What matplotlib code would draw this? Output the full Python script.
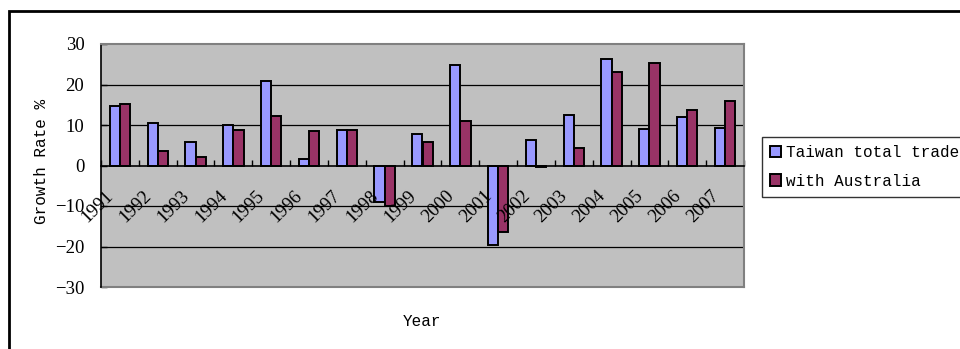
#!/usr/bin/env python3
"""Taiwan trade growth rate vs trade with Australia, 1991-2007."""

import matplotlib
matplotlib.use('Agg')
import matplotlib.pyplot as plt
import matplotlib.patches as mpatches
import matplotlib.transforms as mtransforms
import numpy as np

years = ['1991', '1992', '1993', '1994', '1995', '1996', '1997', '1998', '1999',
         '2000', '2001', '2002', '2003', '2004', '2005', '2006', '2007']
taiwan_total = [14.6, 10.5, 5.8, 10.1, 20.8, 1.7, 8.8, -8.9, 7.9,
                24.8, -19.6, 6.2, 12.4, 26.2, 8.9, 12.0, 9.3]
with_australia = [15.1, 3.6, 2.2, 8.8, 12.3, 8.4, 8.8, -10.1, 5.8,
                  11.0, -16.5, -0.4, 4.4, 23.1, 25.4, 13.8, 16.0]
y_ticks = [-30, -20, -10, 0, 10, 20, 30]

W, H = 960, 349
fig = plt.figure(figsize=(W / 100, H / 100), dpi=100)
fig.patch.set_facecolor('white')

# plot area in pixel coordinates
left, right, top, bottom = 101, 744, 44, 287
ax = fig.add_axes([left / W, (H - bottom) / H, (right - left) / W, (bottom - top) / H])
ax.set_facecolor('#C0C0C0')

serif = 'Liberation Serif'
mono = 'Liberation Mono'

x = np.arange(len(years)) + 0.5
w = 0.27
ax.bar(x - w / 2, taiwan_total, w, color='#9999FF', edgecolor='black',
       linewidth=1.4, zorder=3, label='Taiwan total trade')
ax.bar(x + w / 2, with_australia, w, color='#993366', edgecolor='black',
       linewidth=1.4, zorder=3, label='with Australia')

ax.set_xlim(0, len(years))
ax.set_ylim(-30, 30)

# horizontal gridlines
for yv in y_ticks:
    if yv not in (-30, 0, 30):
        ax.axhline(yv, color='black', linewidth=0.9, zorder=1)

# axes: category axis crosses at zero
for side in ('top', 'right'):
    ax.spines[side].set_color('#808080')
    ax.spines[side].set_linewidth(1.5)
ax.spines['left'].set_color('black')
ax.spines['left'].set_linewidth(1.2)
ax.spines['bottom'].set_position(('data', 0))
ax.spines['bottom'].set_color('black')
ax.spines['bottom'].set_linewidth(1.2)
ax.spines['bottom'].set_zorder(4)
ax.axhline(-30, color='#808080', linewidth=1.5, zorder=2, clip_on=False)

ax.set_yticks(y_ticks)
ax.set_yticklabels([f'{v}'.replace('-', '\u2212') for v in y_ticks],
                   fontfamily=serif, fontsize=13.5)
ax.tick_params(axis='y', direction='in', length=4, width=1, pad=12, colors='black')

ax.set_xticks(np.arange(len(years) + 1))
ax.set_xticklabels([])
ax.tick_params(axis='x', direction='in', length=4, width=1)

# rotated year labels hanging below the zero line
offset = mtransforms.ScaledTranslation(-9 / 100, -28 / 100, fig.dpi_scale_trans)
for xi, lab in zip(x, years):
    ax.text(xi, 0, lab, rotation=45, rotation_mode='anchor', ha='right',
            va='center', fontfamily=serif, fontsize=13.5, zorder=5,
            transform=ax.transData + offset)

fig.text(422 / W, 1 - 322 / H, 'Year', ha='center', va='center',
         fontfamily=mono, fontsize=11.5)
fig.text(41 / W, 1 - 161 / H, 'Growth Rate %', ha='center', va='center',
         rotation=90, fontfamily=mono, fontsize=11.5)

leg = fig.legend(loc='upper left', bbox_to_anchor=(762 / W, 1 - 137 / H),
                 bbox_transform=fig.transFigure, borderaxespad=0,
                 prop={'family': mono, 'size': 11.5}, frameon=True,
                 fancybox=False, handlelength=0.7, handleheight=0.7,
                 handletextpad=0.3, labelspacing=0.85, borderpad=0.5)
leg.get_frame().set_edgecolor('black')
leg.get_frame().set_linewidth(1.0)

# chart border
fig.patches.append(mpatches.Rectangle((9 / W, -0.2), 1.2, 1.2 - 10.7 / H,
                                      transform=fig.transFigure, fill=False,
                                      edgecolor='black', linewidth=2))

fig.savefig('out.png', dpi=100)
